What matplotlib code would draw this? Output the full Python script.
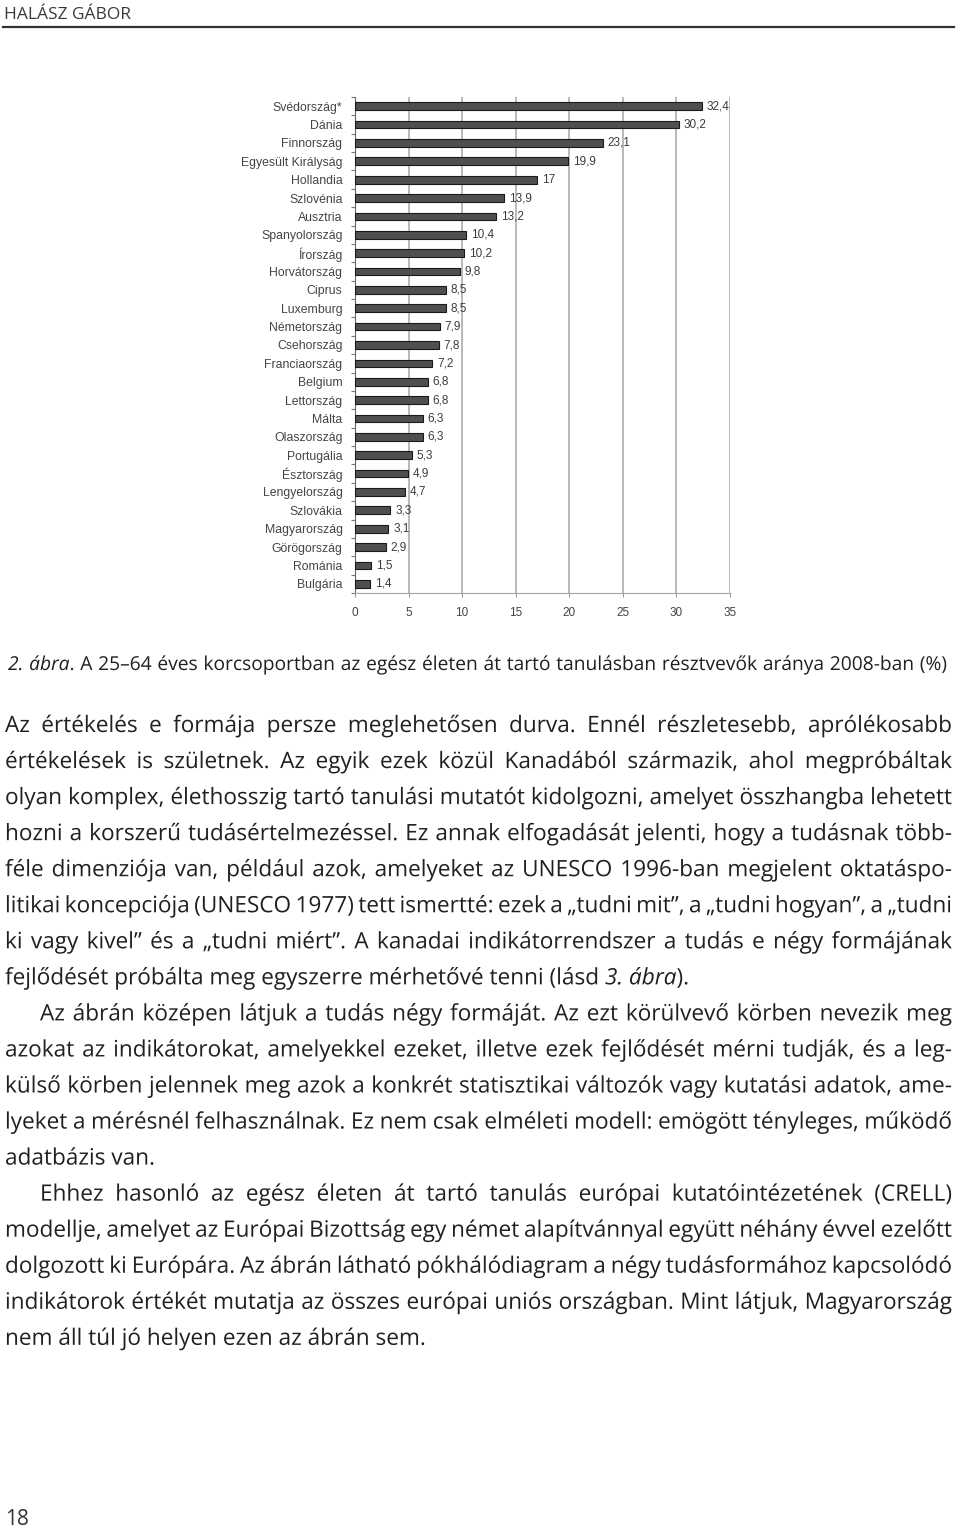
import matplotlib.pyplot as plt
from matplotlib.textpath import TextPath, text_to_path
from matplotlib.font_manager import FontProperties
from matplotlib.patches import PathPatch
from matplotlib.transforms import Affine2D

# ---- chart data (2. ábra) ----
countries = ['Svédország*', 'Dánia', 'Finnország', 'Egyesült Királyság', 'Hollandia',
             'Szlovénia', 'Ausztria', 'Spanyolország', 'Írország', 'Horvátország',
             'Ciprus', 'Luxemburg', 'Németország', 'Csehország', 'Franciaország',
             'Belgium', 'Lettország', 'Málta', 'Olaszország', 'Portugália',
             'Észtország', 'Lengyelország', 'Szlovákia', 'Magyarország', 'Görögország',
             'Románia', 'Bulgária']
values = [32.4, 30.2, 23.1, 19.9, 17.0, 13.9, 13.2, 10.4, 10.2, 9.8,
          8.5, 8.5, 7.9, 7.8, 7.2, 6.8, 6.8, 6.3, 6.3, 5.3,
          4.9, 4.7, 3.3, 3.1, 2.9, 1.5, 1.4]
x_ticks = [0, 5, 10, 15, 20, 25, 30, 35]

header = 'HALÁSZ GÁBOR'
caption = '*2.* *ábra*. A 25–64 éves korcsoportban az egész életen át tartó tanulásban résztvevők aránya 2008-ban (%)'
page_no = '18'

# (text, indent, justified)
body_lines = [
    ('Az értékelés e formája persze meglehetősen durva. Ennél részletesebb, aprólékosabb', False, True),
    ('értékelések is születnek. Az egyik ezek közül Kanadából származik, ahol megpróbáltak', False, True),
    ('olyan komplex, élethosszig tartó tanulási mutatót kidolgozni, amelyet összhangba lehetett', False, True),
    ('hozni a korszerű tudásértelmezéssel. Ez annak elfogadását jelenti, hogy a tudásnak több-', False, True),
    ('féle dimenziója van, például azok, amelyeket az UNESCO 1996-ban megjelent oktatáspo-', False, True),
    ('litikai koncepciója (UNESCO 1977) tett ismertté: ezek a „tudni mit”, a „tudni hogyan”, a „tudni', False, True),
    ('ki vagy kivel” és a „tudni miért”. A kanadai indikátorrendszer a tudás e négy formájának', False, True),
    ('fejlődését próbálta meg egyszerre mérhetővé tenni (lásd *3.* *ábra*).', False, False),
    ('Az ábrán középen látjuk a tudás négy formáját. Az ezt körülvevő körben nevezik meg', True, True),
    ('azokat az indikátorokat, amelyekkel ezeket, illetve ezek fejlődését mérni tudják, és a leg-', False, True),
    ('külső körben jelennek meg azok a konkrét statisztikai változók vagy kutatási adatok, ame-', False, True),
    ('lyeket a mérésnél felhasználnak. Ez nem csak elméleti modell: emögött tényleges, működő', False, True),
    ('adatbázis van.', False, False),
    ('Ehhez hasonló az egész életen át tartó tanulás európai kutatóintézetének (CRELL)', True, True),
    ('modellje, amelyet az Európai Bizottság egy német alapítvánnyal együtt néhány évvel ezelőtt', False, True),
    ('dolgozott ki Európára. Az ábrán látható pókhálódiagram a négy tudásformához kapcsolódó', False, True),
    ('indikátorok értékét mutatja az összes európai uniós országban. Mint látjuk, Magyarország', False, True),
    ('nem áll túl jó helyen ezen az ábrán sem.', False, False),
]

W, H = 960, 1529
fig = plt.figure(figsize=(W / 100, H / 100), dpi=100)

TEXT_FONT = 'Open Sans'
TEXT_COLOR = '#231f20'


def fx(px):
    return px / W


def fy(py):
    return 1 - py / H


def parse_word(word):
    # '*' toggles italic inside a word
    segs, italic, buf = [], False, ''
    for ch in word:
        if ch == '*':
            if buf:
                segs.append((buf, italic))
            buf, italic = '', not italic
        else:
            buf += ch
    if buf:
        segs.append((buf, italic))
    return segs


def font_for(italic, size_px):
    return FontProperties(family=TEXT_FONT, style='italic' if italic else 'normal', size=size_px)


def seg_width(text, italic, size_px):
    w, h, d = text_to_path.get_text_width_height_descent(text, font_for(italic, size_px), ismath=False)
    return w


def draw_seg(text, italic, x, baseline, size_px):
    # text drawn as a path in pixel coordinates, so every word shares one baseline
    tp = TextPath((0, 0), text, size=size_px, prop=font_for(italic, size_px))
    fig.add_artist(PathPatch(tp, facecolor=TEXT_COLOR, edgecolor='none', lw=0,
                             transform=Affine2D().translate(x, H - baseline)))


def draw_line(line, x0, x1, baseline, size_px, justify):
    words = [parse_word(w) for w in line.split(' ')]
    widths = [[seg_width(s, it, size_px) for s, it in w] for w in words]
    total = sum(sum(w) for w in widths)
    if justify and len(words) > 1:
        gap = (x1 - x0 - total) / (len(words) - 1)
    else:
        gap = seg_width('a a', False, size_px) - seg_width('aa', False, size_px)
    x = x0
    for segs, ws in zip(words, widths):
        for (s, it), w in zip(segs, ws):
            draw_seg(s, it, x, baseline, size_px)
            x += w
        x += gap


# ---- header ----
fig.text(fx(4), fy(19), header, fontsize=12.5, family=TEXT_FONT, color='#3a3a3a',
         ha='left', va='baseline')
fig.add_artist(plt.Line2D([fx(3), fx(954)], [fy(26.5), fy(26.5)], color='#333333', lw=1.6))

# ---- bar chart ----
ax = fig.add_axes([fx(355), fy(593), fx(730) - fx(355), fy(97) - fy(593)])
y = list(range(len(countries)))
ax.barh(y, values, height=0.42, color='#4f4f4f', edgecolor='#1a1a1a', linewidth=0.8, zorder=3)
for yi, v in zip(y, values):
    lab = ('%.1f' % v).replace('.', ',') if v != int(v) else '%d' % v
    ax.text(v + 0.45, yi, lab, fontsize=8.5, family='Liberation Sans', color='#3c3c3c',
            ha='left', va='center')
ax.set_xlim(0, 35)
ax.set_ylim(len(countries) - 0.5, -0.5)
ax.set_xticks(x_ticks)
ax.set_xticklabels([str(t) for t in x_ticks], fontsize=8.5, family='Liberation Sans', color='#444444')
ax.set_yticks(y)
ax.set_yticklabels(countries, fontsize=8.8, family='Liberation Sans', color='#444444')
ax.set_yticks([i + 0.5 for i in range(-1, len(countries))], minor=True)
ax.tick_params(axis='y', which='major', length=0, pad=9)
ax.tick_params(axis='y', which='minor', length=3, color='#777777', width=0.8)
ax.tick_params(axis='x', length=3, color='#999999', pad=7)
ax.grid(axis='x', color='#a6a6a6', linewidth=1.1, zorder=0)
for side in ['top', 'right']:
    ax.spines[side].set_visible(False)
ax.spines['left'].set_color('#666666')
ax.spines['bottom'].set_color('#a6a6a6')

# ---- caption ----
draw_line(caption, 8, 947, 670, 19.2, True)

# ---- body text ----
for i, (line, indent, justify) in enumerate(body_lines):
    draw_line(line, 40 if indent else 5, 952, 732 + 36.05 * i, 22.6, justify)

# ---- page number ----
fig.text(fx(5), fy(1525), page_no, fontsize=15, family=TEXT_FONT, color='#333333',
         ha='left', va='baseline')

fig.savefig('out.png', dpi=100)
